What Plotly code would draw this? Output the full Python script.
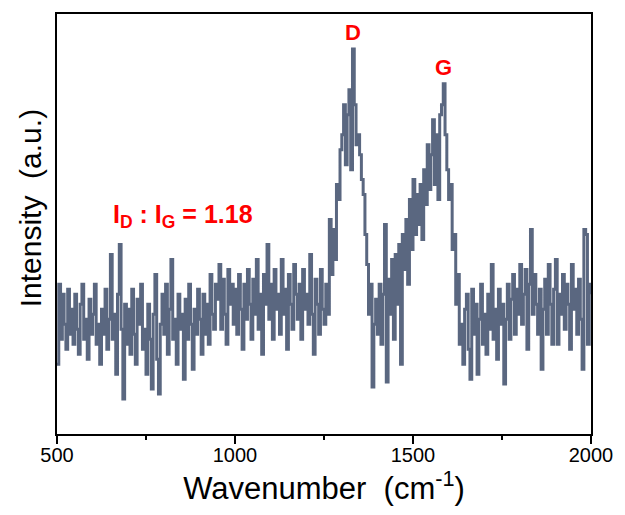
import numpy as np
import plotly.graph_objects as go

# Wavenumber grid (cm^-1), step 5
wavenumber = list(range(500, 2001, 5))

# Intensity (a.u.)
intensity = [
    70, 150, 95, 140, 110, 85, 145, 100, 125, 90,        # 500-545
    140, 105, 80, 130, 150, 95, 115, 75, 135, 100,       # 550-595
    120, 150, 90, 110, 70, 125, 100, 145, 85, 115,       # 600-645
    180, 95, 120, 60, 140, 190, 105, 35, 130, 90,        # 650-695
    125, 80, 145, 100, 70, 135, 110, 150, 85, 105,       # 700-745
    60, 130, 95, 45, 120, 160, 75, 40, 110, 140,         # 750-795
    100, 150, 80, 125, 175, 95, 115, 70, 140, 105,       # 800-845
    120, 55, 135, 95, 150, 110, 65, 125, 100, 145,       # 850-895
    115, 80, 140, 100, 130, 90, 160, 120, 105, 150,      # 900-945
    135, 170, 105, 155, 120, 90, 165, 130, 150, 110,     # 950-995
    145, 100, 160, 125, 85, 150, 115, 165, 130, 95,      # 1000-1045
    155, 120, 175, 105, 140, 80, 160, 130, 190, 115,     # 1050-1095
    150, 95, 165, 125, 140, 100, 175, 120, 145, 85,      # 1100-1145
    160, 130, 105, 170, 140, 115, 150, 95, 165, 125,     # 1150-1195
    140, 110, 180, 120, 80, 155, 130, 100, 165, 125,     # 1200-1245
    110, 150, 120, 215, 160, 205, 175, 250, 235, 285,    # 1250-1295
    300, 330, 270, 320, 345, 265, 386, 330, 290, 300,    # 1300-1345
    280, 255, 240, 200, 170, 120, 150, 47, 110, 135,     # 1350-1395
    100, 150, 90, 140, 210, 52, 155, 120, 175, 95,       # 1400-1445
    180, 130, 190, 70, 200, 165, 215, 150, 235, 185,     # 1450-1495
    255, 200, 240, 210, 250, 195, 265, 230, 290, 245,    # 1500-1545
    280, 315, 250, 300, 235, 320, 330, 351, 300, 265,    # 1550-1595
    235, 250, 185, 200, 130, 160, 90, 110, 70, 125,      # 1600-1645
    140, 85, 55, 145, 100, 130, 60, 115, 150, 90,        # 1650-1695
    120, 80, 140, 105, 170, 95, 125, 75, 145, 110,       # 1700-1745
    130, 50, 115, 150, 95, 135, 160, 100, 145, 120,      # 1750-1795
    170, 110, 140, 165, 85, 150, 205, 120, 160, 130,     # 1800-1845
    100, 145, 65, 125, 155, 100, 170, 130, 90, 145,      # 1850-1895
    175, 90, 140, 120, 160, 105, 150, 130, 85, 170,      # 1900-1945
    125, 145, 100, 155, 115, 65, 205, 200, 90, 150,      # 1950-1995
    140,                                                 # 2000
]

x_ticks = [500, 1000, 1500, 2000]
peak_labels = ["D", "G"]
peak_pos = [1331, 1587]
peak_height = [386, 351]
ratio_text = "I<sub>D</sub> : I<sub>G</sub> = 1.18"

line_color = "rgb(90,103,128)"
red = "rgb(255,0,0)"
font_family = "Liberation Sans, Arial, sans-serif"

fig = go.Figure()
fig.add_trace(go.Scatter(
    x=wavenumber, y=intensity, mode="lines",
    line=dict(color=line_color, width=3, shape="hv"),
    showlegend=False, hoverinfo="skip",
))

for lbl, px, ph in zip(peak_labels, peak_pos, peak_height):
    fig.add_annotation(
        x=px, y=ph, text="<b>%s</b>" % lbl, showarrow=False,
        yshift=16, font=dict(family=font_family, size=22, color=red),
    )

fig.add_annotation(
    x=855, y=219, text="<b>%s</b>" % ratio_text, showarrow=False,
    font=dict(family=font_family, size=25, color=red),
)

# y-axis title placed as a rotated annotation (sits slightly above centre in the reference)
fig.add_annotation(
    xref="paper", yref="paper", x=-0.049, y=0.537,
    xanchor="center", yanchor="middle",
    text="Intensity&nbsp; (a.u.)", textangle=-90, showarrow=False,
    font=dict(family=font_family, size=30, color="black"),
)

fig.update_layout(
    width=625, height=515,
    margin=dict(l=57, r=31, t=13, b=81),
    paper_bgcolor="white", plot_bgcolor="white",
    font=dict(family=font_family, color="black"),
    xaxis=dict(
        range=[500, 2000], tickvals=x_ticks,
        ticks="outside", ticklen=8, tickwidth=1.5, tickcolor="black",
        ticklabelstandoff=-6,
        showline=True, linecolor="black", linewidth=2, mirror=True,
        showgrid=False, zeroline=False,
        tickfont=dict(size=20, color="black"),
        minor=dict(ticks="outside", ticklen=4, tickwidth=1.5, tickcolor="black",
                   dtick=250, tick0=500, showgrid=False),
        title=dict(text="Wavenumber&nbsp; (cm<sup>-1</sup>)", font=dict(size=31), standoff=10),
    ),
    yaxis=dict(
        range=[0, 421],
        showticklabels=False, ticks="",
        showline=True, linecolor="black", linewidth=2, mirror=True,
        showgrid=False, zeroline=False,
    ),
)

fig.write_html("out.html")
